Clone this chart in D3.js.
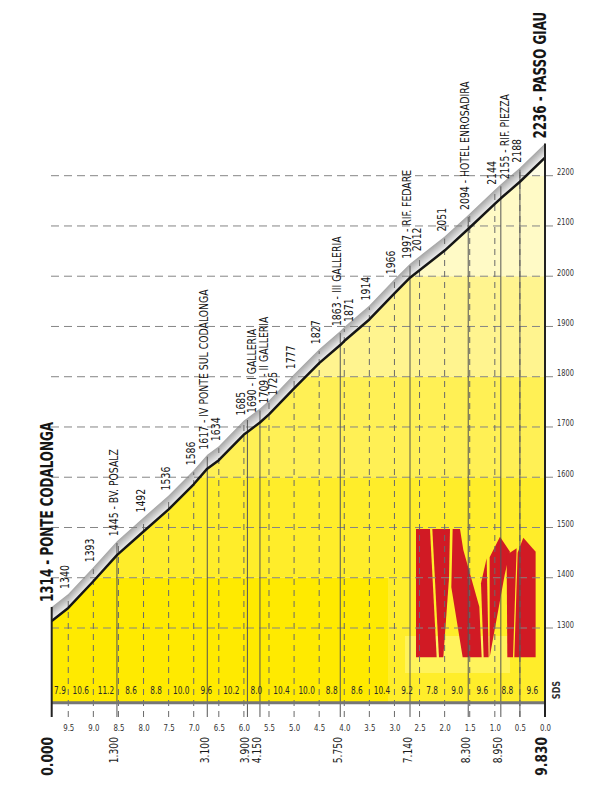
<!DOCTYPE html>
<html lang="it">
<head>
  <meta charset="UTF-8">
  <title>Passo Giau</title>
  <style>
    body { margin: 0; background: #fff; }
    svg text { font-family: 'Liberation Sans Narrow', 'DejaVu Sans Condensed', 'Arial Narrow', sans-serif; }
  </style>
</head>
<body>
  <svg id="chart" width="611" height="800"></svg>

  <script src="https://cdn.jsdelivr.net/npm/d3@7"></script>
  <script>
    // profilo altimetrico (km dal via, quota m)
    var distances = [0, 0.33, 0.83, 1.3, 1.83, 2.33, 2.83, 3.1, 3.33, 3.83, 3.9, 4.15, 4.33, 4.83,
      5.33, 5.75, 5.83, 6.33, 6.83, 7.14, 7.33, 7.83, 8.3, 8.83, 8.95, 9.33, 9.83];
    var elevations = [1314, 1340, 1393, 1445, 1492, 1536, 1586, 1617, 1634, 1685, 1690, 1709, 1725, 1777,
      1827, 1863, 1871, 1914, 1966, 1997, 2012, 2051, 2094, 2144, 2155, 2188, 2236];
    var placeNames = ['PONTE CODALONGA', '', '', 'BV. POSALZ', '', '', '', 'IV PONTE SUL CODALONGA', '', '',
      'I GALLERIA', 'II GALLERIA', '', '', '', 'III GALLERIA', '', '', '', 'RIF. FEDARE', '', '',
      'HOTEL ENROSADIRA', '', 'RIF. PIEZZA', '', 'PASSO GIAU'];

    // pendenze (%) per tratto
    var gradients = [7.9, 10.6, 11.2, 8.6, 8.8, 10.0, 9.6, 10.2, 8.0, 10.4, 10.0, 8.8, 8.6, 10.4, 9.2,
      7.8, 9.0, 9.6, 8.8, 9.6];

    // km all'arrivo
    var remainingTicks = [9.5, 9.0, 8.5, 8.0, 7.5, 7.0, 6.5, 6.0, 5.5, 5.0, 4.5, 4.0, 3.5, 3.0, 2.5,
      2.0, 1.5, 1.0, 0.5, 0.0];
    var keyDistances = [0, 1.3, 3.1, 3.9, 4.15, 5.75, 7.14, 8.3, 8.95, 9.83];
    var solidLines = [1.3, 3.1, 3.9, 4.15, 5.75, 7.14, 8.3, 8.95, 9.33];
    var elevTicks = [1300, 1400, 1500, 1600, 1700, 1800, 1900, 2000, 2100, 2200];

    var bandFrom = [1200, 1400, 1600, 1800, 2000, 2200];
    var bandTo = [1400, 1600, 1800, 2000, 2200, 2300];
    var bandColors = ['#ffea00', '#ffed2a', '#fff055', '#fff48f', '#fffac6', '#fffde4'];

    var totalKm = 9.83;
    var baseY = 702;
    var narrow = 0.82;   // compressione orizzontale del testo
    var svg = d3.select('#chart');

    var x = d3.scaleLinear().domain([0, totalKm]).range([51.7, 545]);
    var xRem = d3.scaleLinear().domain([totalKm, 0]).range([51.7, 545]);
    var y = d3.scaleLinear().domain([1300, 2200]).range([628, 175.7]);

    var pts = distances.map(function (d, i) {
      return { d: d, e: elevations[i], name: placeNames[i] };
    });

    function elevAt(d) {
      var i = d3.bisector(function (p) { return p.d; }).left(pts, d);
      if (i <= 0) return pts[0].e;
      if (i >= pts.length) return pts[pts.length - 1].e;
      var a = pts[i - 1], b = pts[i];
      return a.e + (b.e - a.e) * (d - a.d) / (b.d - a.d);
    }

    /* ombra sopra il profilo */
    var shade = d3.interpolateRgb('#f7f7f7', '#a8a8a8');
    for (var k = 14; k >= 1; k--) {
      svg.append('path')
        .datum(pts)
        .attr('fill', shade(k / 14))
        .attr('d', d3.area()
          .x(function (p) { return x(p.d); })
          .y0(baseY)
          .y1(function (p) { return y(p.e) - k; }));
    }

    /* riempimento giallo a fasce */
    var area = d3.area()
      .x(function (p) { return x(p.d); })
      .y0(baseY)
      .y1(function (p) { return y(p.e); });

    svg.append('defs').append('clipPath').attr('id', 'clip-profile')
      .append('path').datum(pts).attr('d', area);

    var fill = svg.append('g').attr('clip-path', 'url(#clip-profile)');
    fill.selectAll('rect.band')
      .data(bandFrom)
      .enter()
      .append('rect')
      .attr('class', 'band')
      .attr('x', x(0))
      .attr('width', x(totalKm) - x(0))
      .attr('y', function (d, i) { return y(bandTo[i]); })
      .attr('height', function (d, i) {
        var bottom = i === 0 ? baseY : y(d);
        return bottom - y(bandTo[i]);
      })
      .attr('fill', function (d, i) { return bandColors[i]; });

    // riquadri più chiari dietro al logo
    fill.append('rect').attr('x', 388).attr('y', y(1400)).attr('width', 157).attr('height', baseY - y(1400))
      .attr('fill', bandColors[1]);
    fill.append('rect').attr('x', 405).attr('y', 636).attr('width', 105).attr('height', 37)
      .attr('fill', '#fff35c');

    /* logo */
    var logo = [
      [[108, 57], [150, 57], [170, 442], [108, 442]],
      [[157, 57], [210, 57], [207, 205], [190, 442], [177, 442]],
      [[218, 57], [240, 57], [250, 120], [298, 290], [305, 442], [248, 442], [214, 232]],
      [[303, 220], [320, 145], [326, 442], [311, 442]],
      [[329, 142], [360, 80], [390, 125], [374, 195], [329, 442]],
      [[380, 135], [410, 115], [399, 442], [382, 442]],
      [[430, 83], [467, 125], [467, 442], [403, 442], [413, 128]]
    ];
    svg.append('g')
      .attr('transform', 'translate(380,510) scale(0.3333)')
      .selectAll('polygon')
      .data(logo)
      .enter()
      .append('polygon')
      .attr('points', function (d) { return d.join(' '); })
      .attr('fill', '#d11a24');

    /* griglia orizzontale */
    svg.append('g').selectAll('line')
      .data(elevTicks)
      .enter()
      .append('line')
      .attr('x1', 51).attr('x2', 555)
      .attr('y1', function (d) { return y(d); })
      .attr('y2', function (d) { return y(d); })
      .attr('stroke', '#858585')
      .attr('stroke-width', 1)
      .attr('stroke-dasharray', '8,5');

    /* linee verticali */
    svg.append('g').selectAll('line')
      .data(remainingTicks.filter(function (r) { return r > 0; }))
      .enter()
      .append('line')
      .attr('x1', function (r) { return xRem(r); })
      .attr('x2', function (r) { return xRem(r); })
      .attr('y1', 717)
      .attr('y2', function (r) { return y(elevAt(totalKm - r)) - 12; })
      .attr('stroke', '#6a6a6a')
      .attr('stroke-width', 1)
      .attr('stroke-dasharray', '6,5');

    svg.append('g').selectAll('line')
      .data(solidLines)
      .enter()
      .append('line')
      .attr('x1', function (d) { return x(d); })
      .attr('x2', function (d) { return x(d); })
      .attr('y1', 717)
      .attr('y2', function (d) { return y(elevAt(d)) - 12; })
      .attr('stroke', '#555')
      .attr('stroke-width', 1);

    /* fascia pendenze */
    svg.append('line')
      .attr('x1', x(0)).attr('x2', x(totalKm))
      .attr('y1', 702.7).attr('y2', 702.7)
      .attr('stroke', '#767676')
      .attr('stroke-width', 3);

    var bounds = [0].concat(remainingTicks.map(function (r) { return totalKm - r; }));
    svg.append('g').selectAll('text')
      .data(gradients)
      .enter()
      .append('text')
      .attr('transform', function (g, i) {
        return 'translate(' + x((bounds[i] + bounds[i + 1]) / 2) + ',693.5) scale(' + narrow + ',1)';
      })
      .attr('text-anchor', 'middle')
      .attr('font-size', 10)
      .attr('fill', '#2a2a2a')
      .text(function (g) { return g.toFixed(1); });

    svg.append('text')
      .attr('transform', 'translate(560,690) rotate(-90) scale(' + narrow + ',1)')
      .attr('text-anchor', 'middle')
      .attr('font-size', 11)
      .attr('font-weight', 'bold')
      .attr('fill', '#333')
      .text('SDS');

    /* profilo */
    svg.append('path')
      .datum(pts)
      .attr('fill', 'none')
      .attr('stroke', '#151515')
      .attr('stroke-width', 2.5)
      .attr('stroke-linejoin', 'round')
      .attr('d', d3.line()
        .x(function (p) { return x(p.d); })
        .y(function (p) { return y(p.e); }));

    // assi laterali
    svg.append('line')
      .attr('x1', x(0)).attr('x2', x(0))
      .attr('y1', y(elevations[0]) - 14).attr('y2', 717)
      .attr('stroke', '#222').attr('stroke-width', 2);
    svg.append('line')
      .attr('x1', x(totalKm)).attr('x2', x(totalKm))
      .attr('y1', y(elevations[elevations.length - 1]) - 14).attr('y2', 717)
      .attr('stroke', '#222').attr('stroke-width', 2);

    /* asse quote a destra */
    var axisRight = svg.append('g')
      .attr('transform', 'translate(557,0)')
      .call(d3.axisRight(y).tickValues(elevTicks).tickSize(0).tickPadding(0).tickFormat(d3.format('d')));
    axisRight.select('.domain').remove();
    axisRight.selectAll('text')
      .attr('dy', '-1')
      .attr('font-size', 9)
      .attr('fill', '#333')
      .attr('transform', 'scale(' + narrow + ',1)');

    /* km all'arrivo */
    var axisBottom = svg.append('g')
      .attr('transform', 'translate(0,717)')
      .call(d3.axisBottom(xRem).tickValues(remainingTicks).tickSize(0).tickPadding(7).tickFormat(d3.format('.1f')));
    axisBottom.select('.domain').remove();
    axisBottom.selectAll('text')
      .attr('font-size', 9.5)
      .attr('fill', '#333')
      .attr('transform', 'scale(' + narrow + ',1)');
    svg.selectAll('.tick text').attr('font-family', null);

    /* progressive */
    svg.append('g').selectAll('text')
      .data(keyDistances)
      .enter()
      .append('text')
      .attr('transform', function (d) {
        return 'translate(' + (x(d) + 1.5) + ',737) rotate(-90) scale(0.85,1)';
      })
      .attr('text-anchor', 'end')
      .attr('font-size', function (d, i) { return (i === 0 || i === keyDistances.length - 1) ? 16 : 12; })
      .attr('font-weight', function (d, i) { return (i === 0 || i === keyDistances.length - 1) ? 'bold' : 'normal'; })
      .attr('fill', '#1a1a1a')
      .text(function (d) { return d3.format('.3f')(d); });

    /* etichette località */
    var prevRight = -Infinity;
    pts.forEach(function (p, i) {
      var big = (i === 0 || i === pts.length - 1);
      var w = big ? 13 : 9.5;
      var ax = x(p.d) + 1;
      if (ax - w < prevRight) ax = x(p.d) + w - 1;
      prevRight = ax;

      svg.append('text')
        .attr('transform', 'translate(' + ax + ',' + (y(p.e) - 19) + ') rotate(-90) scale(' + (big ? 0.78 : 0.83) + ',1)')
        .attr('text-anchor', 'start')
        .attr('font-size', big ? 17 : 12.5)
        .attr('font-weight', big ? 'bold' : 'normal')
        .attr('fill', '#151515')
        .text(p.name ? p.e + ' - ' + p.name : p.e);
    });
  </script>
</body>
</html>
